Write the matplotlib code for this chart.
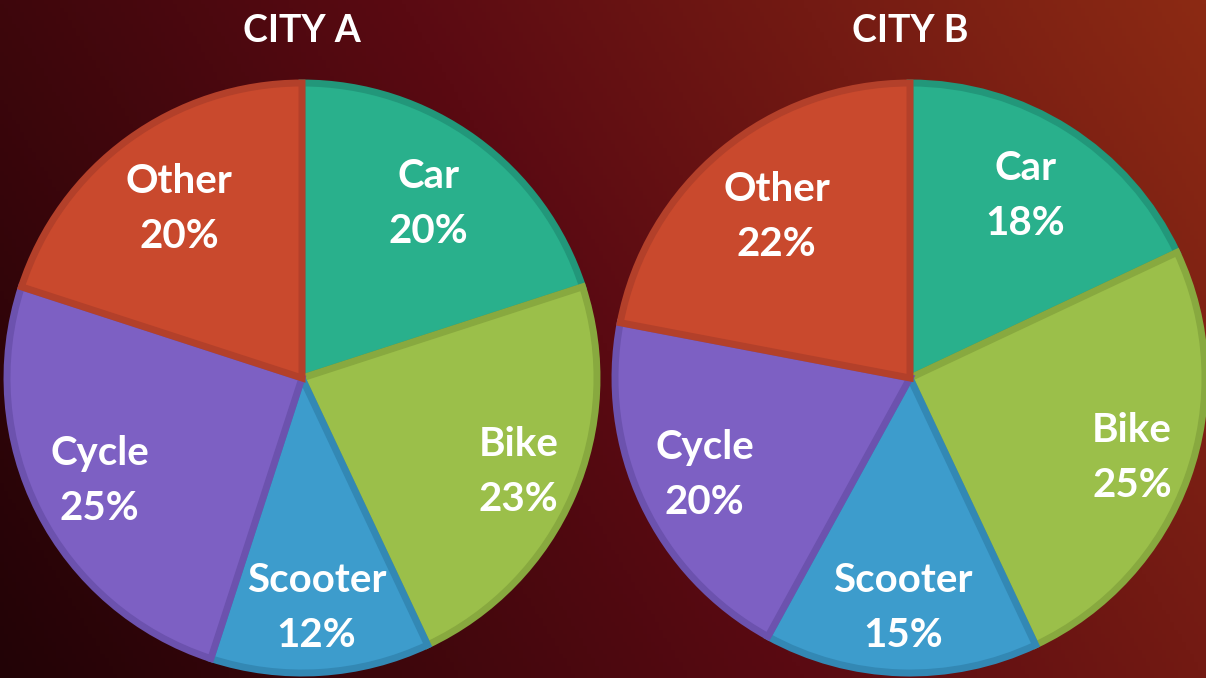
"""Two pie charts: share of transport modes in City A and City B."""

import matplotlib
matplotlib.use("Agg")
import matplotlib.pyplot as plt
import numpy as np

# --- data ---
modes = ["Car", "Bike", "Scooter", "Cycle", "Other"]
city_a = [20, 23, 12, 25, 20]
city_b = [18, 25, 15, 20, 22]
titles = ["CITY A", "CITY B"]

# --- style ---
fills = ["#29b08c", "#9bbf4a", "#3d9ccc", "#7d60c3", "#c9492d"]
edges = ["#22977a", "#88a93f", "#3388b4", "#6c52ae", "#b3402a"]
label_r = [0.73, 0.80, 0.78, 0.77, 0.71]

W, H = 1206, 678
plt.rcParams["font.family"] = ["Lato", "DejaVu Sans"]

fig = plt.figure(figsize=(W / 100, H / 100), dpi=100)

# background gradient (dark on the left, warmer red on the right)
bg = fig.add_axes([0, 0, 1, 1])
bg.set_axis_off()
gx, gy = np.meshgrid(np.linspace(0, 1, 300), np.linspace(0, 1, 170))
t = np.clip(0.75 * gx + 0.25 * (1 - gy), 0, 1)[..., None]
dark = np.array([0x22, 0x03, 0x06]) / 255
mid = np.array([0x5a, 0x0a, 0x12]) / 255
warm = np.array([0x8c, 0x2a, 0x14]) / 255
img = np.where(t < 0.5, dark + (mid - dark) * (t / 0.5), mid + (warm - mid) * ((t - 0.5) / 0.5))
bg.imshow(img, extent=[0, 1, 0, 1], aspect="auto", origin="upper")

ax = fig.add_axes([0, 0, 1, 1])
ax.set_axis_off()

centers = [(302, H - 378), (910, H - 378)]
radius = 295

for vals, title, (cx, cy) in zip([city_a, city_b], titles, centers):
    wedges, _ = ax.pie(
        vals,
        colors=fills,
        startangle=90,
        counterclock=False,
        center=(cx, cy),
        radius=radius,
    )
    for w, ec in zip(wedges, edges):
        w.set_edgecolor(ec)
        w.set_linewidth(5)
        w.set_joinstyle("miter")
    for w, name, v, r in zip(wedges, modes, vals, label_r):
        ang = np.deg2rad((w.theta1 + w.theta2) / 2)
        ax.text(cx + r * radius * np.cos(ang), cy + r * radius * np.sin(ang),
                f"{name}\n{v}%", ha="center", va="center", color="white",
                fontsize=29, fontweight="bold", linespacing=1.6)
    ax.text(cx, H - 31, title, ha="center", va="center", color="white",
            fontsize=27, fontweight="bold")

ax.set_xlim(0, W)
ax.set_ylim(0, H)
ax.set_aspect("equal")

fig.savefig("out.png", dpi=100)
